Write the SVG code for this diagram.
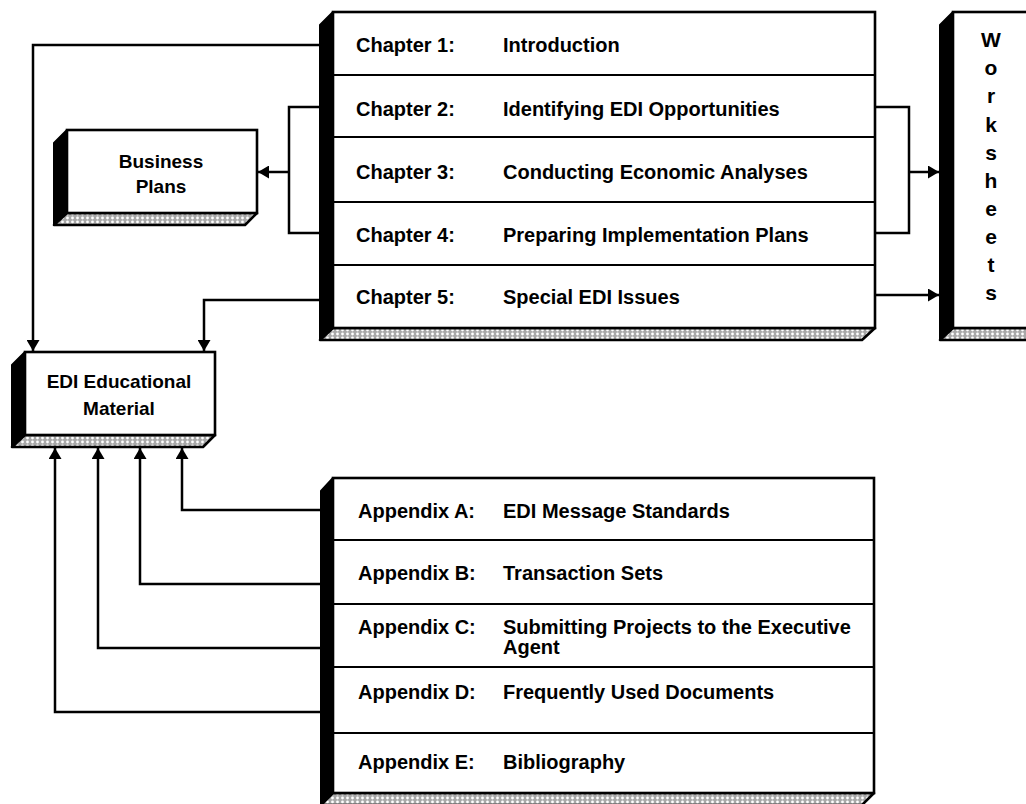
<svg xmlns="http://www.w3.org/2000/svg" width="1026" height="804" viewBox="0 0 1026 804">
  <defs>
    <pattern id="stipple" width="5" height="4" patternUnits="userSpaceOnUse">
      <rect width="5" height="4" fill="#a8a8a8"/>
      <circle cx="2.5" cy="2" r="1.4" fill="#ffffff"/>
    </pattern>
    <marker id="arrow" viewBox="0 0 11 13" refX="11" refY="6.5" markerWidth="11" markerHeight="13" markerUnits="userSpaceOnUse" orient="auto">
      <path d="M0,0 L11,6.5 L0,13 Z" fill="#000"/>
    </marker>
    <style>
      .face { fill: #fff; stroke: #000; stroke-width: 2.6; }
      .side { fill: #000; stroke: #000; stroke-width: 2; stroke-linejoin: round; }
      .base { fill: url(#stipple); stroke: #000; stroke-width: 2.6; stroke-linejoin: round; }
      .sep { stroke: #000; stroke-width: 2.2; }
      .wire { fill: none; stroke: #000; stroke-width: 2.5; }
      .arr { fill: none; stroke: #000; stroke-width: 2.5; marker-end: url(#arrow); }
      text { font-family: "Liberation Sans", Arial, sans-serif; font-weight: bold; font-size: 20px; fill: #000; }
      .mid { text-anchor: middle; font-size: 19px; }
      .ws { text-anchor: middle; font-size: 21px; }
    </style>
  </defs>

  <!-- connectors -->
  <g id="connectors">
    <!-- Chapter 1 to EDI Educational Material -->
    <path class="arr" d="M320,45 H33 V351"/>
    <!-- Chapter 5 to EDI Educational Material -->
    <path class="arr" d="M320,300 H204 V351"/>
    <!-- Chapters 2-4 to Business Plans -->
    <path class="wire" d="M320,107 H289 V233 H320"/>
    <path class="arr" d="M289,172 H258"/>
    <!-- Chapters 2-4 to Worksheets -->
    <path class="wire" d="M875,107 H909 V233 H875"/>
    <path class="arr" d="M909,172 H939"/>
    <!-- Chapter 5 to Worksheets -->
    <path class="arr" d="M875,295 H939"/>
    <!-- Appendices A-D to EDI Educational Material -->
    <path class="arr" d="M321,510 H182 V448"/>
    <path class="arr" d="M321,584 H140 V448"/>
    <path class="arr" d="M321,648 H98 V448"/>
    <path class="arr" d="M321,712 H55 V448"/>
  </g>

  <!-- Chapters -->
  <g id="chapters">
    <polygon class="side" points="320,25 333,12 333,328 320,340"/>
    <polygon class="base" points="333,328 875,328 862,340 320,340"/>
    <rect class="face" x="333" y="12" width="542" height="316"/>
    <line class="sep" x1="333" y1="75" x2="875" y2="75"/>
    <line class="sep" x1="333" y1="137" x2="875" y2="137"/>
    <line class="sep" x1="333" y1="202" x2="875" y2="202"/>
    <line class="sep" x1="333" y1="265" x2="875" y2="265"/>
    <text x="356" y="52">Chapter 1:</text><text x="503" y="52">Introduction</text>
    <text x="356" y="116">Chapter 2:</text><text x="503" y="116">Identifying EDI Opportunities</text>
    <text x="356" y="179">Chapter 3:</text><text x="503" y="179">Conducting Economic Analyses</text>
    <text x="356" y="242">Chapter 4:</text><text x="503" y="242">Preparing Implementation Plans</text>
    <text x="356" y="304">Chapter 5:</text><text x="503" y="304">Special EDI Issues</text>
  </g>

  <!-- Worksheets -->
  <g id="worksheets">
    <polygon class="side" points="940,25 953,12 953,328 940,340"/>
    <polygon class="base" points="953,328 1030,328 1030,340 940,340"/>
    <rect class="face" x="953" y="12" width="80" height="316"/>
    <text class="ws" x="991" y="47">W</text>
    <text class="ws" x="991" y="75">o</text>
    <text class="ws" x="991" y="103">r</text>
    <text class="ws" x="991" y="132">k</text>
    <text class="ws" x="991" y="160">s</text>
    <text class="ws" x="991" y="188">h</text>
    <text class="ws" x="991" y="216">e</text>
    <text class="ws" x="991" y="244">e</text>
    <text class="ws" x="991" y="272">t</text>
    <text class="ws" x="991" y="300">s</text>
  </g>

  <!-- Business Plans -->
  <g id="business-plans">
    <polygon class="side" points="54,143 67,130 67,213 54,225"/>
    <polygon class="base" points="67,213 257,213 245,225 54,225"/>
    <rect class="face" x="67" y="130" width="190" height="83"/>
    <text class="mid" x="161" y="168">Business</text>
    <text class="mid" x="161" y="193">Plans</text>
  </g>

  <!-- EDI Educational Material -->
  <g id="edi-material">
    <polygon class="side" points="12,365 25,352 25,435 12,447"/>
    <polygon class="base" points="25,435 215,435 203,447 12,447"/>
    <rect class="face" x="25" y="352" width="190" height="83"/>
    <text class="mid" x="119" y="388">EDI Educational</text>
    <text class="mid" x="119" y="415">Material</text>
  </g>

  <!-- Appendices -->
  <g id="appendices">
    <polygon class="side" points="321,491 333,478 333,793 321,805"/>
    <polygon class="base" points="333,793 874,793 862,805 321,805"/>
    <rect class="face" x="333" y="478" width="541" height="315"/>
    <line class="sep" x1="333" y1="540" x2="874" y2="540"/>
    <line class="sep" x1="333" y1="604" x2="874" y2="604"/>
    <line class="sep" x1="333" y1="667" x2="874" y2="667"/>
    <line class="sep" x1="333" y1="733" x2="874" y2="733"/>
    <text x="358" y="518">Appendix A:</text><text x="503" y="518">EDI Message Standards</text>
    <text x="358" y="580">Appendix B:</text><text x="503" y="580">Transaction Sets</text>
    <text x="358" y="634">Appendix C:</text><text x="503" y="634">Submitting Projects to the Executive</text>
    <text x="503" y="654">Agent</text>
    <text x="358" y="699">Appendix D:</text><text x="503" y="699">Frequently Used Documents</text>
    <text x="358" y="769">Appendix E:</text><text x="503" y="769">Bibliography</text>
  </g>
</svg>
